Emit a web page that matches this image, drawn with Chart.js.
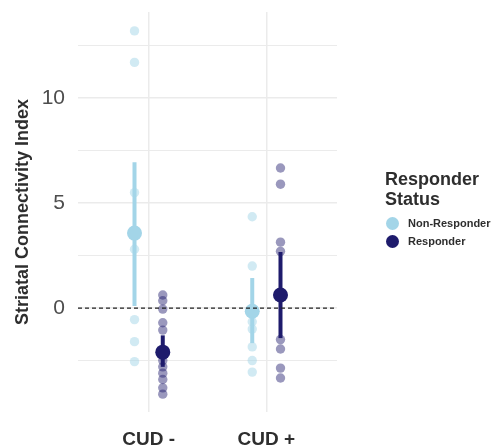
<!DOCTYPE html>
<html>
<head>
<meta charset="utf-8">
<script src="https://cdn.jsdelivr.net/npm/chart.js@4.4.1/dist/chart.umd.min.js"></script>
<style>
  html, body { margin: 0; padding: 0; background: #fff; }
  #wrap { position: relative; width: 495px; height: 448px; }
  #legend { position: absolute; left: 385px; top: 169px; font-family: "Liberation Sans", Arial, sans-serif; color: #2e2e2e; }
  #legend .title { font-size: 18px; font-weight: bold; line-height: 20px; }
  #legend .item { display: flex; align-items: center; height: 18px; font-size: 11px; font-weight: bold; margin-left: 1px; }
  #legend .dot { width: 13px; height: 13px; border-radius: 50%; margin-right: 9px; }
</style>
</head>
<body>
<div id="wrap">
  <canvas id="chart-dot" width="495" height="448"></canvas>
  <div id="legend"></div>
</div>
<script>
// Categories and y ticks
const CATEGORIES = ["CUD -", "CUD +"];
const Y_TICKS = [-2.5, 0, 2.5, 5, 7.5, 10, 12.5];
const Y_LABELED = [0, 5, 10];

// Individual values per group
const NONRESP_CUD_NEG = [13.2, 11.7, 5.5, 3.6, 2.8, -0.55, -1.6, -2.55];
const RESP_CUD_NEG = [0.62, 0.35, -0.05, -0.7, -1.05, -2.5, -2.8, -3.1, -3.4, -3.8, -4.1];
const NONRESP_CUD_POS = [4.35, 2.0, -0.1, -0.65, -1.0, -1.85, -2.5, -3.05];
const RESP_CUD_POS = [6.67, 5.9, 3.14, 2.7, -1.5, -1.95, -2.86, -3.33];

// Group means and intervals (CUD -, CUD +)
const NONRESP_MEAN = [3.57, -0.15];
const NONRESP_LOW = [0.1, -1.67];
const NONRESP_HIGH = [6.95, 1.43];
const RESP_MEAN = [-2.1, 0.62];
const RESP_LOW = [-2.8, -1.43];
const RESP_HIGH = [-1.3, 2.67];

const LIGHT = "#a3d5e8";
const LIGHT_A = "rgba(163, 213, 232, 0.5)";
const DARK = "#1e1b6c";
const DARK_A = "rgba(30, 27, 108, 0.45)";
const DODGE = 0.12;
const FONT = "'Liberation Sans', Arial, sans-serif";

const pts = (vals, x) => vals.map((v) => ({ x: x, y: v }));

const pointSet = (data, color) => ({
  type: "scatter",
  data: data,
  backgroundColor: color,
  borderWidth: 0,
  pointRadius: 4.7,
  order: 3,
});

const ciSet = (i, x, lo, hi, color) => ({
  type: "line",
  data: [{ x: x, y: lo[i] }, { x: x, y: hi[i] }],
  borderColor: color,
  borderWidth: 4,
  pointRadius: 0,
  order: 1,
});

const datasets = [
  pointSet(pts(NONRESP_CUD_NEG, 1 - DODGE), LIGHT_A),
  pointSet(pts(RESP_CUD_NEG, 1 + DODGE), DARK_A),
  pointSet(pts(NONRESP_CUD_POS, 2 - DODGE), LIGHT_A),
  pointSet(pts(RESP_CUD_POS, 2 + DODGE), DARK_A),
];
[0, 1].forEach((i) => {
  datasets.push(ciSet(i, i + 1 - DODGE, NONRESP_LOW, NONRESP_HIGH, LIGHT));
  datasets.push(ciSet(i, i + 1 + DODGE, RESP_LOW, RESP_HIGH, DARK));
});
datasets.push({
  type: "scatter",
  data: NONRESP_MEAN.map((v, i) => ({ x: i + 1 - DODGE, y: v })),
  backgroundColor: LIGHT,
  borderWidth: 0,
  pointRadius: 7.5,
  order: 0,
});
datasets.push({
  type: "scatter",
  data: RESP_MEAN.map((v, i) => ({ x: i + 1 + DODGE, y: v })),
  backgroundColor: DARK,
  borderWidth: 0,
  pointRadius: 7.5,
  order: 0,
});
// Zero reference line
datasets.push({
  type: "line",
  data: [{ x: 0.4, y: 0 }, { x: 2.6, y: 0 }],
  borderColor: "#222",
  borderWidth: 1.3,
  borderDash: [4, 3],
  pointRadius: 0,
  order: -1,
});

const CONFIG = {
  type: "scatter",
  data: { datasets: datasets },
  options: {
    responsive: false,
    animation: false,
    layout: { padding: { top: 12, right: 158, left: 0, bottom: 0 } },
    plugins: {
      legend: { display: false },
      tooltip: { enabled: false },
    },
    scales: {
      x: {
        type: "linear",
        min: 0.4,
        max: 2.6,
        border: { display: false },
        grid: { color: "#ebebeb", lineWidth: 1.5, drawTicks: false },
        afterBuildTicks: (scale) => {
          scale.ticks = CATEGORIES.map((c, i) => ({ value: i + 1 }));
        },
        afterFit: (scale) => {
          scale.height = 36;
          scale.paddingLeft = 0;
          scale.paddingRight = 0;
        },
        ticks: {
          padding: 16,
          color: "#2e2e2e",
          font: { family: FONT, size: 19, weight: "bold" },
          callback: (v, i) => CATEGORIES[i],
        },
      },
      y: {
        min: -4.95,
        max: 14.1,
        border: { display: false },
        grid: {
          color: "#ebebeb",
          drawTicks: false,
          lineWidth: (ctx) => (ctx.tick && Y_LABELED.includes(ctx.tick.value) ? 1.6 : 1),
        },
        afterBuildTicks: (scale) => {
          scale.ticks = Y_TICKS.map((v) => ({ value: v }));
        },
        afterFit: (scale) => {
          scale.width = 78;
          scale.paddingTop = 0;
          scale.paddingBottom = 0;
        },
        ticks: {
          padding: 13,
          color: "#4d4d4d",
          font: { family: FONT, size: 21 },
          callback: (v) => (Y_LABELED.includes(v) ? String(v) : ""),
        },
        title: {
          display: true,
          text: "Striatal Connectivity Index",
          color: "#2e2e2e",
          font: { family: FONT, size: 18, weight: "bold" },
          padding: { top: 12, bottom: 0 },
        },
      },
    },
  },
};

const CHART_WRAPPER = document.getElementById("chart-dot");
if (CHART_WRAPPER) {
  new Chart(CHART_WRAPPER, CONFIG);
}

// Legend
const legend = document.getElementById("legend");
legend.innerHTML =
  '<div class="title">Responder<br>Status</div>' +
  '<div style="height:5px"></div>' +
  [["Non-Responder", LIGHT], ["Responder", DARK]]
    .map(([t, c]) => '<div class="item"><span class="dot" style="background:' + c + '"></span>' + t + "</div>")
    .join("");
</script>
</body>
</html>
